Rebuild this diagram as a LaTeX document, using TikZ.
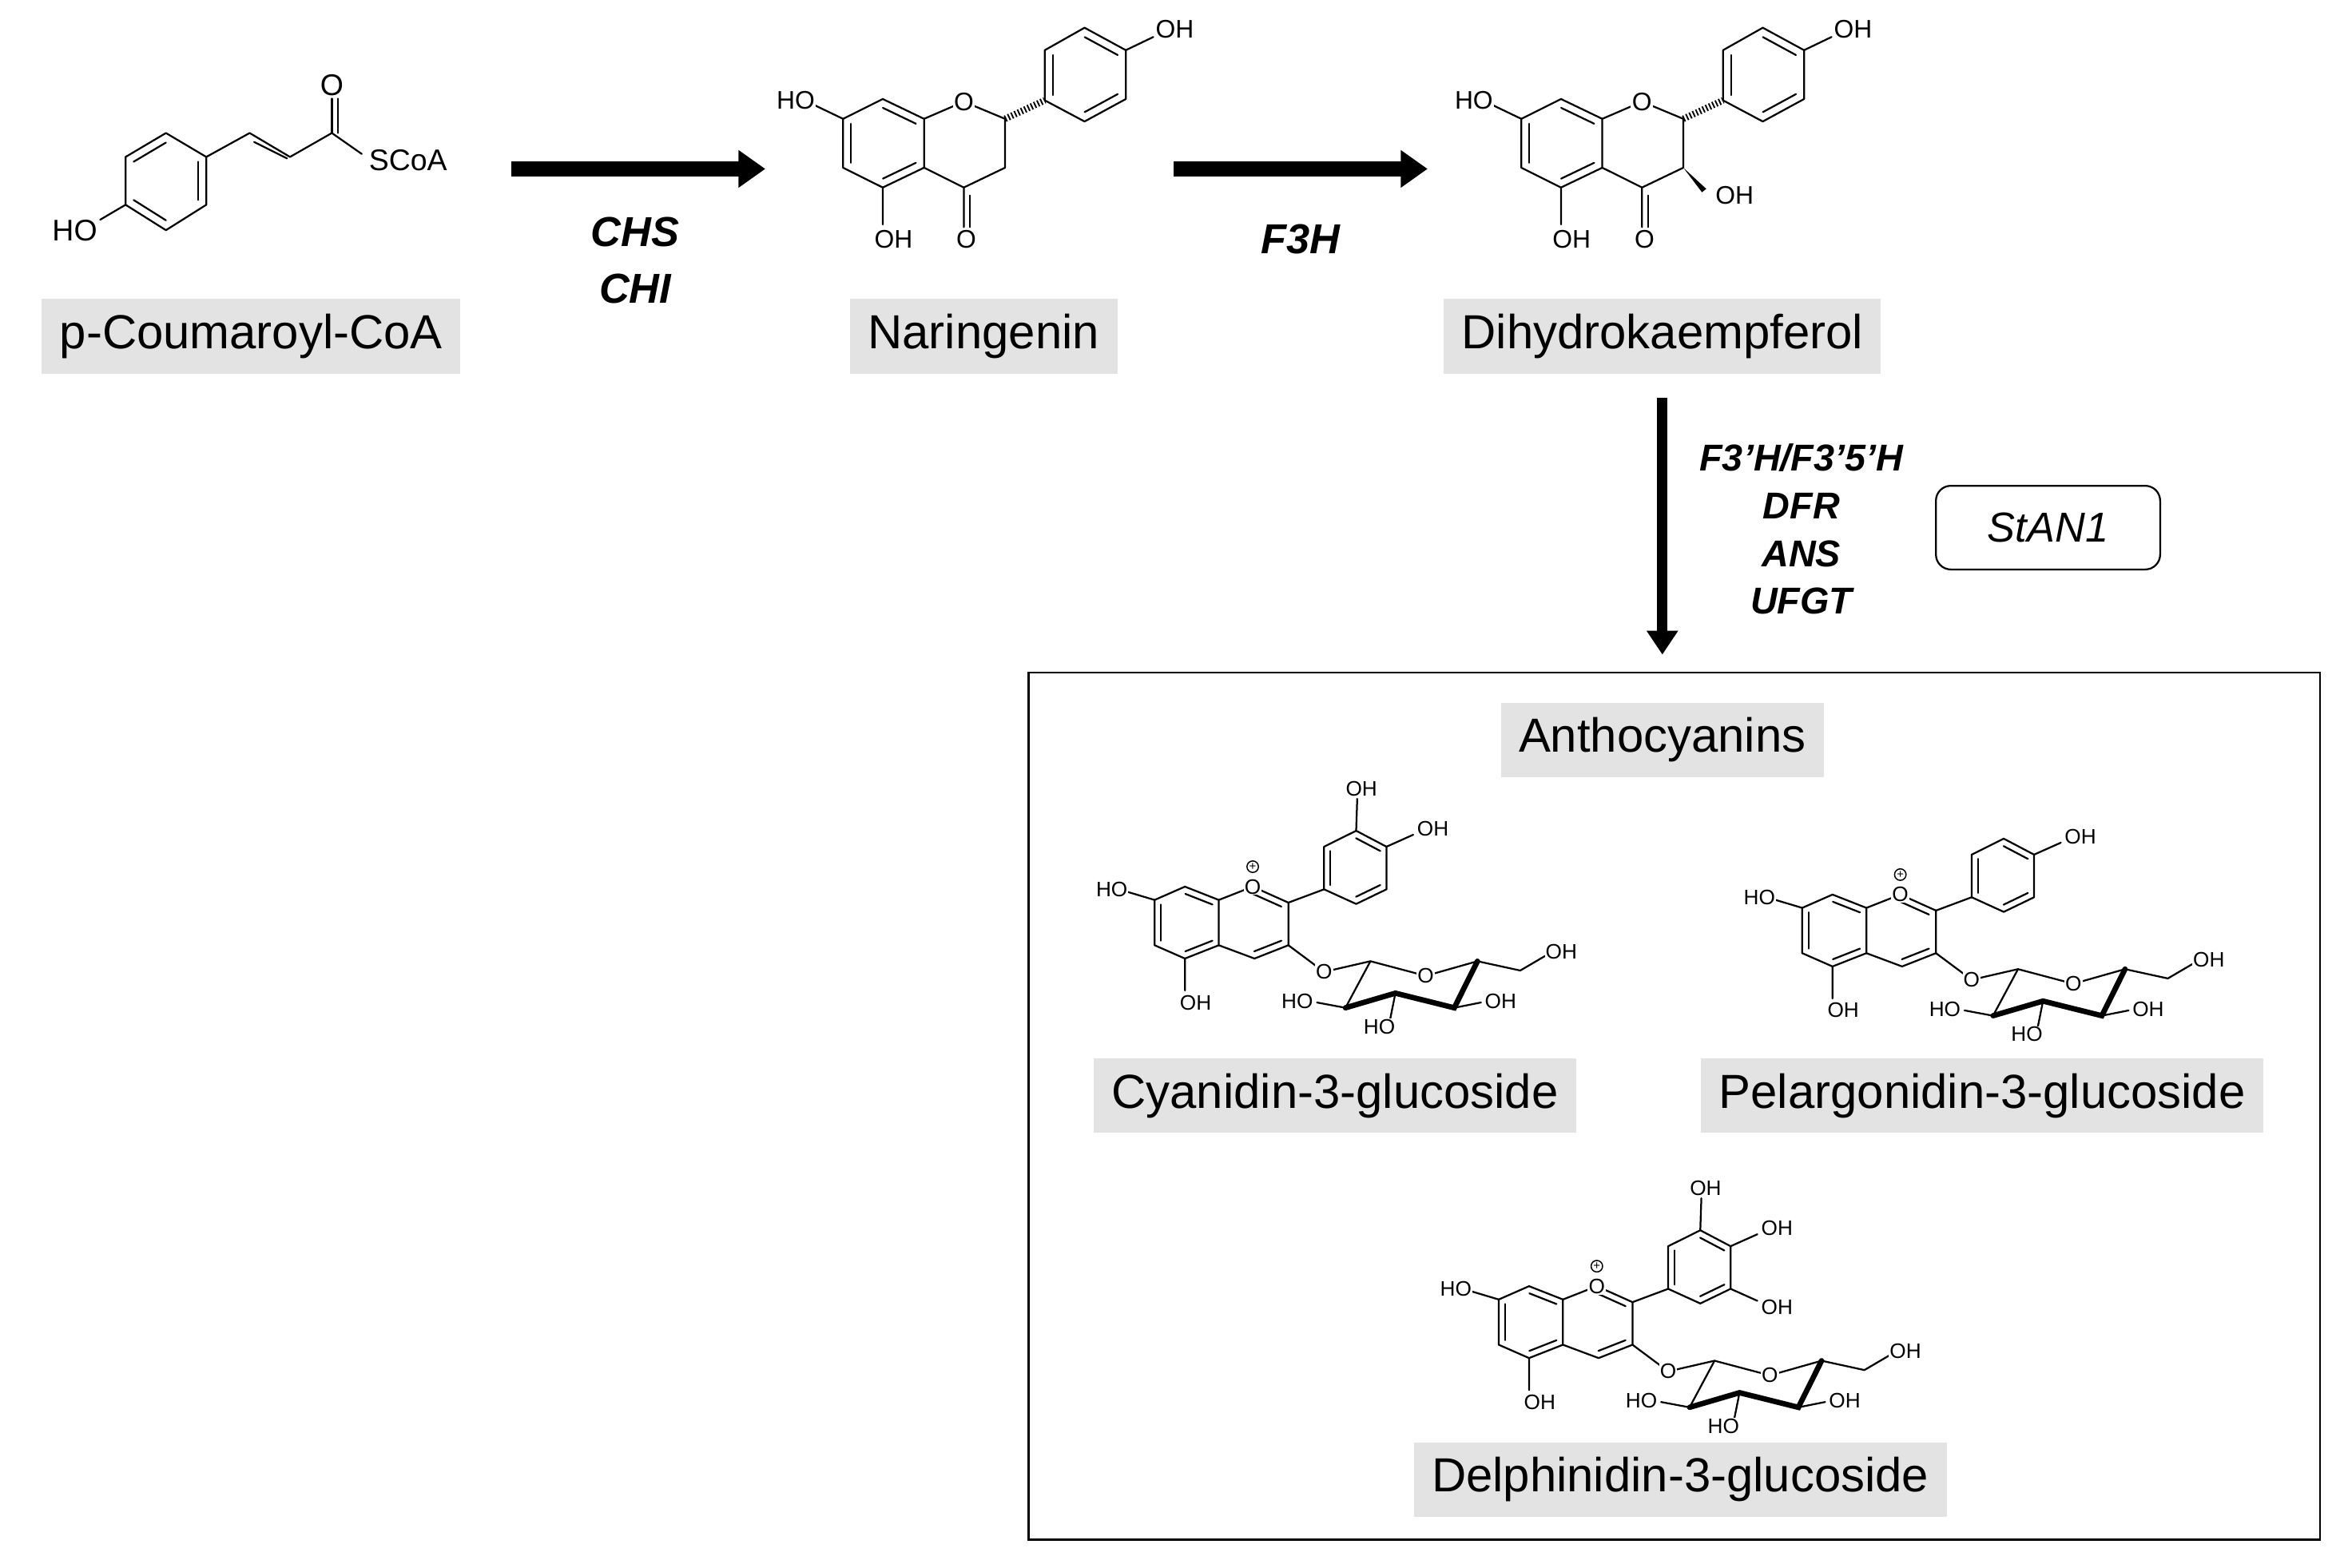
\documentclass[tikz,border=0pt]{standalone}
\usepackage{fontspec}
\setmainfont{Liberation Sans}
\usetikzlibrary{arrows.meta,calc}
\begin{document}
\begin{tikzpicture}[x=0.5pt,y=-0.5pt,
  bond/.style={line width=0.6pt,line cap=round,line join=round},
  bbond/.style={line width=1.8pt,line cap=round},
  lab/.style={fill=white,inner sep=0.4pt,font=\fontsize{8.5}{9}\selectfont},
  slab/.style={fill=white,inner sep=0.3pt,font=\fontsize{7}{8}\selectfont},
  cname/.style={fill=black!11,inner xsep=6pt,inner ysep=5pt,font=\fontsize{16}{18}\selectfont},
  enz/.style={font=\fontsize{14}{16}\selectfont\bfseries\itshape},
  venz/.style={font=\fontsize{12.5}{15}\selectfont\bfseries\itshape,align=center},
  harrow/.style={line width=5pt,-{Triangle[length=9pt,width=12pt]}},
]
\useasboundingbox (0,0) rectangle (1568,1049);

% helper: inner double line
\newcommand\dbl[3]{\draw[bond] ($(#1)!0.2!(#3)$) -- ($(#2)!0.2!(#3)$);}

%%%% p-Coumaroyl-CoA (display units)
\begin{scope}
\coordinate (r1) at (111,89); \coordinate (r2) at (138,105); \coordinate (r3) at (138,137);
\coordinate (r4) at (111,154); \coordinate (r5) at (84,137); \coordinate (r6) at (84,105);
\coordinate (rc) at (111,121);
\draw[bond] (r1)--(r2)--(r3)--(r4)--(r5)--(r6)--cycle;
\dbl{r1}{r6}{rc} \dbl{r2}{r3}{rc} \dbl{r4}{r5}{rc}
\coordinate (c1) at (167,89); \coordinate (c2) at (194,105); \coordinate (c3) at (222,89);
\draw[bond] (r2)--(c1)--(c2)--(c3);
\draw[bond] ($(c1)+(3,6)$) -- ($(c2)+(-2,1)$);
\draw[bond] (c3)--(242,103);
\draw[bond] (c3)--(222,66);
\draw[bond] (226,89)--(226,66);
\draw[bond] (r5)--(67,147);
\node[lab,font=\fontsize{10}{11}\selectfont] (ocoum) at (222,57) {O};
\node[lab,font=\fontsize{10}{11}\selectfont] (scoa) at (273,107) {SCoA};
\node[lab,font=\fontsize{10}{11}\selectfont] (hocoum) at (50,154) {HO};
\end{scope}

%%%% flavanone macro (zoom1 units)
\newcommand\flavanone[1]{%
\coordinate (A1) at (405,375); \coordinate (A2) at (275,450); \coordinate (A3) at (275,635);
\coordinate (A4) at (405,710); \coordinate (A5) at (540,635); \coordinate (A6) at (540,450);
\coordinate (Ac) at (407,542);
\coordinate (O1) at (670,385); \coordinate (C2) at (805,450); \coordinate (C3) at (805,635); \coordinate (C4) at (670,710);
\coordinate (B1) at (935,380); \coordinate (B2) at (935,190); \coordinate (B3) at (1065,105);
\coordinate (B4) at (1200,190); \coordinate (B5) at (1200,375); \coordinate (B6) at (1065,460);
\coordinate (Bc) at (1067,282);
\draw[bond] (A1)--(A2)--(A3)--(A4)--(A5)--(A6)--cycle;
\dbl{A2}{A3}{Ac} \dbl{A4}{A5}{Ac} \dbl{A6}{A1}{Ac}
\draw[bond] (A6)--(O1)--(C2)--(C3)--(C4)--(A5);
\draw[bond] (C4)--(670,860);
\draw[bond] (690,740)--(690,860);
\draw[bond] (A4)--(405,850);
\draw[bond] (A2)--(185,400);
\draw[line width=2.2pt,dash pattern=on 0.5pt off 0.7pt] (C2)--(B1);
\draw[bond] (B1)--(B2)--(B3)--(B4)--(B5)--(B6)--cycle;
\dbl{B1}{B2}{Bc} \dbl{B3}{B4}{Bc} \dbl{B5}{B6}{Bc}
\draw[bond] (B4)--(1290,140);
#1
\node[lab] at (O1) {O};
\node[lab] at (678,905) {O};
\node[lab] at (440,905) {OH};
\node[lab] at (120,380) {HO};
\node[lab] at (1360,112) {OH};
}

\begin{scope}[shift={(507.7,0)},xscale=1/4.89,yscale=1/5.66]
\flavanone{}
\end{scope}
\begin{scope}[shift={(961.4,0)},xscale=1/4.89,yscale=1/5.66]
\flavanone{\fill (C3)--(880,715)--(866,728)--cycle; \node[lab] at (973,741) {OH};}
\end{scope}

%%%% anthocyanin macro (zoom2 units)
\newcommand\antho[1]{%
\coordinate (a1) at (410,480); \coordinate (a2) at (325,530); \coordinate (a3) at (325,700);
\coordinate (a4) at (410,750); \coordinate (a5) at (505,700); \coordinate (a6) at (505,530);
\coordinate (ac) at (415,615);
\coordinate (o1) at (600,480); \coordinate (k2) at (700,540); \coordinate (k3) at (700,700); \coordinate (k4) at (605,750);
\coordinate (kc) at (602,615);
\coordinate (b1) at (800,490); \coordinate (b2) at (800,330); \coordinate (b3) at (890,270);
\coordinate (b4) at (975,330); \coordinate (b5) at (975,490); \coordinate (b6) at (890,545);
\coordinate (bc) at (888,410);
\draw[bond] (a1)--(a2)--(a3)--(a4)--(a5)--(a6)--cycle;
\dbl{a2}{a3}{ac} \dbl{a4}{a5}{ac} \dbl{a6}{a1}{ac}
\draw[bond] (a6)--(o1)--(k2)--(k3)--(k4)--(a5);
\dbl{o1}{k2}{kc} \dbl{k3}{k4}{kc}
\draw[bond] (k2)--(b1);
\draw[bond] (b1)--(b2)--(b3)--(b4)--(b5)--(b6)--cycle;
\dbl{b1}{b2}{bc} \dbl{b3}{b4}{bc} \dbl{b5}{b6}{bc}
\draw[bond] (a2)--(250,500);
\draw[bond] (a4)--(410,870);
% sugar
\coordinate (g1) at (930,760); \coordinate (g5) at (1230,760); \coordinate (g4) at (1165,935);
\coordinate (g3) at (1000,880); \coordinate (g2) at (860,935);
\draw[bond] (k3)--(800,800)--(g1)--(1085,815)--(g5)--(1350,795)--(1420,740);
\draw[bond] (g1)--(g2);
\draw[bbond] (g5)--(g4)--(g3)--(g2);
\draw[bond] (g2)--(780,915);
\draw[bond] (g3)--(985,980);
\draw[bond] (g4)--(1240,915);
#1
\node[slab] at (800,800) {O};
\node[slab] at (1085,815) {O};
\node[slab] at (o1) {O};
\node[circle,draw,line width=0.4pt,inner sep=0.2pt,font=\fontsize{4}{4}\selectfont] at (600,405) {+};
\node[slab] at (205,490) {HO};
\node[slab] at (440,915) {OH};
\node[slab] at (1465,725) {OH};
\node[slab] at (725,910) {HO};
\node[slab] at (955,1005) {HO};
\node[slab] at (1295,910) {OH};
}
\newcommand\ohthree{\draw[bond] (b3)--(893,150); \node[slab] at (905,112) {OH};}
\newcommand\ohfour{\draw[bond] (b4)--(1050,285); \node[slab] at (1105,262) {OH};}
\newcommand\ohfive{\draw[bond] (b5)--(1050,535); \node[slab] at (1105,560) {OH};}

\begin{scope}[shift={(694.8,507.7)},xscale=1/4.19,yscale=1/5.613]
\antho{\ohthree\ohfour}
\end{scope}
\begin{scope}[shift={(1128,513)},xscale=1/4.19,yscale=1/5.613]
\antho{\ohfour}
\end{scope}
\begin{scope}[shift={(925,775)},xscale=1/4.19,yscale=1/5.613]
\antho{\ohthree\ohfour\ohfive}
\end{scope}

%%%% names
\node[cname] (coum) at (168,225) {p-Coumaroyl-CoA};
\node[cname] (nar) at (658,225) {Naringenin};
\node[cname] (dhk) at (1112,225) {Dihydrokaempferol};
\node[cname] (anth) at (1112,495) {Anthocyanins};
\node[cname] (cya) at (893,733) {Cyanidin-3-glucoside};
\node[cname] (pel) at (1326,733) {Pelargonidin-3-glucoside};
\node[cname] (del) at (1124,990) {Delphinidin-3-glucoside};

%%%% arrows
\coordinate (a1s) at (342,113); \coordinate (a1e) at (512,113);
\coordinate (a2s) at (785,113); \coordinate (a2e) at (955,113);
\draw[harrow] (a1s) -- (a1e);
\draw[harrow] (a2s) -- (a2e);
\node[enz] (chs) at (425,155) {CHS};
\node[enz] (chi) at (425,193) {CHI};
\node[enz] (f3h) at (870,160) {F3H};
\coordinate (vs) at (1112,266); \coordinate (ve) at (1112,438);
\draw[line width=3.5pt,-{Triangle[length=8pt,width=10pt]}] (vs) -- (ve);
\node[venz] (venzs) at (1205,354) {F3’H/F3’5’H\\[1pt]DFR\\[1pt]ANS\\[1pt]UFGT};
\node[draw,rounded corners=5pt,line width=0.6pt,
  font=\fontsize{14}{16}\selectfont\itshape,minimum width=75pt,minimum height=28pt] (stan) at (1370,353) {StAN1};
\node[draw,line width=0.7pt,minimum width=432pt,minimum height=290pt] (box) at (1120,740) {};
\end{tikzpicture}
\end{document}
